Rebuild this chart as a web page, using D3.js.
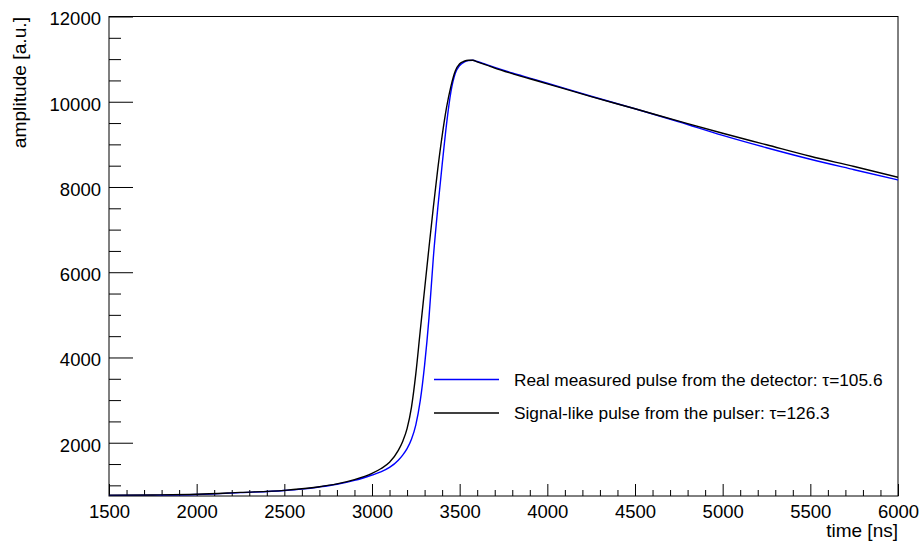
<!DOCTYPE html>
<html>
<head>
<meta charset="utf-8">
<script src="https://cdn.jsdelivr.net/npm/d3@7/dist/d3.min.js"></script>
<style>
  html, body { margin: 0; padding: 0; background: #fff; }
  svg { display: block; font-family: "Liberation Sans", Arial, Helvetica, sans-serif; }
</style>
</head>
<body>
<svg id="chart" width="921" height="543"></svg>
<script>
// ---- data ----
const times = [1500, 1750, 2000, 2250, 2500, 2600, 2700, 2800, 2900, 3000, 3050, 3100, 3150, 3175, 3200,
  3225, 3250, 3275, 3300, 3325, 3350, 3375, 3400, 3425, 3450, 3475, 3500, 3525, 3550, 3575, 3600,
  3650, 3700, 3800, 3900, 4000, 4250, 4500, 4750, 5000, 5250, 5500, 5750, 6000];

const pulserValues = [770, 775, 790, 835, 883, 920, 968, 1035, 1135, 1282, 1390, 1540, 1820, 2030, 2330,
  2830, 3620, 4620, 5600, 6580, 7530, 8420, 9200, 9860, 10360, 10720, 10890, 10950, 10975, 10975, 10935,
  10865, 10790, 10660, 10540, 10420, 10120, 9835, 9545, 9260, 8990, 8720, 8480, 8227];

const detectorValues = [765, 770, 785, 828, 878, 912, 962, 1025, 1115, 1242, 1315, 1420, 1590, 1710, 1860,
  2080, 2420, 2980, 3820, 4930, 6350, 7500, 8520, 9470, 10230, 10667, 10850, 10930, 10965, 10972, 10945,
  10875, 10805, 10675, 10555, 10435, 10130, 9835, 9530, 9210, 8920, 8650, 8405, 8164];

const xMajorTicks = [1500, 2000, 2500, 3000, 3500, 4000, 4500, 5000, 5500, 6000];
const yMajorTicks = [2000, 4000, 6000, 8000, 10000, 12000];

const seriesNames = ["Real measured pulse from the detector: \u03c4=105.6",
                     "Signal-like pulse from the pulser: \u03c4=126.3"];
const seriesColors = ["#0000ff", "#000000"];

// ---- layout ----
const svg = d3.select("#chart");
const L = 109, R = 898, T = 16.5, B = 496;
const x = d3.scaleLinear().domain([1500, 6000]).range([L, R]);
const y = d3.scaleLinear().domain([750, 12000]).range([B, T]);

const xMinor = d3.range(1500, 6001, 100).filter(v => !xMajorTicks.includes(v));
const yMinor = d3.range(1000, 12001, 500).filter(v => !yMajorTicks.includes(v));

// frame
svg.append("rect").attr("x", L).attr("y", T).attr("width", R - L).attr("height", B - T)
  .attr("fill", "none").attr("stroke", "#000").attr("stroke-width", 1);

// x axis
const gx = svg.append("g").attr("transform", `translate(0,${B})`);
gx.call(d3.axisBottom(x).tickValues(xMajorTicks).tickSizeInner(-12).tickSizeOuter(0).tickFormat(d3.format("d")));
gx.select(".domain").remove();
gx.selectAll("text").attr("y", 21.5).attr("dy", null).attr("font-size", 18.5).attr("fill", "#000")
  .attr("font-family", "Liberation Sans, Arial, Helvetica, sans-serif");
const gxm = svg.append("g").attr("transform", `translate(0,${B})`);
gxm.call(d3.axisBottom(x).tickValues(xMinor).tickSizeInner(-6).tickSizeOuter(0).tickFormat(""));
gxm.select(".domain").remove();

// y axis
const gy = svg.append("g").attr("transform", `translate(${L},0)`);
gy.call(d3.axisLeft(y).tickValues(yMajorTicks).tickSizeInner(-24).tickSizeOuter(0).tickFormat(d3.format("d")));
gy.select(".domain").remove();
gy.selectAll("text").attr("x", -8).attr("dy", "0.45em").attr("font-size", 18.5).attr("fill", "#000")
  .attr("font-family", "Liberation Sans, Arial, Helvetica, sans-serif");
const gym = svg.append("g").attr("transform", `translate(${L},0)`);
gym.call(d3.axisLeft(y).tickValues(yMinor).tickSizeInner(-12).tickSizeOuter(0).tickFormat(""));
gym.select(".domain").remove();

svg.selectAll(".tick line").attr("stroke", "#000").attr("stroke-width", 1);

// axis titles
svg.append("text").attr("x", R).attr("y", 537).attr("text-anchor", "end")
  .attr("font-size", 19).text("time [ns]");
svg.append("text").attr("transform", `translate(26,${T + 0.5}) rotate(-90)`).attr("text-anchor", "end")
  .attr("font-size", 19.2).text("amplitude [a.u.]");

// curves
const line = d3.line().x((d, i) => x(times[i])).y(d => y(d)).curve(d3.curveMonotoneX);
svg.append("clipPath").attr("id", "clip").append("rect")
  .attr("x", L).attr("y", T).attr("width", R - L).attr("height", B - T);
[detectorValues, pulserValues].forEach((vals, k) => {
  svg.append("path").datum(vals).attr("d", line).attr("fill", "none")
    .attr("stroke", seriesColors[k]).attr("stroke-width", 1.4).attr("clip-path", "url(#clip)");
});

// legend
const legendY = [379.5, 413];
seriesNames.forEach((name, k) => {
  svg.append("line").attr("x1", 434).attr("x2", 499).attr("y1", legendY[k]).attr("y2", legendY[k])
    .attr("stroke", seriesColors[k]).attr("stroke-width", 1.4);
  svg.append("text").attr("x", 514).attr("y", legendY[k] + 6).attr("font-size", 17.3)
    .attr("fill", "#000").text(name);
});
</script>
</body>
</html>
